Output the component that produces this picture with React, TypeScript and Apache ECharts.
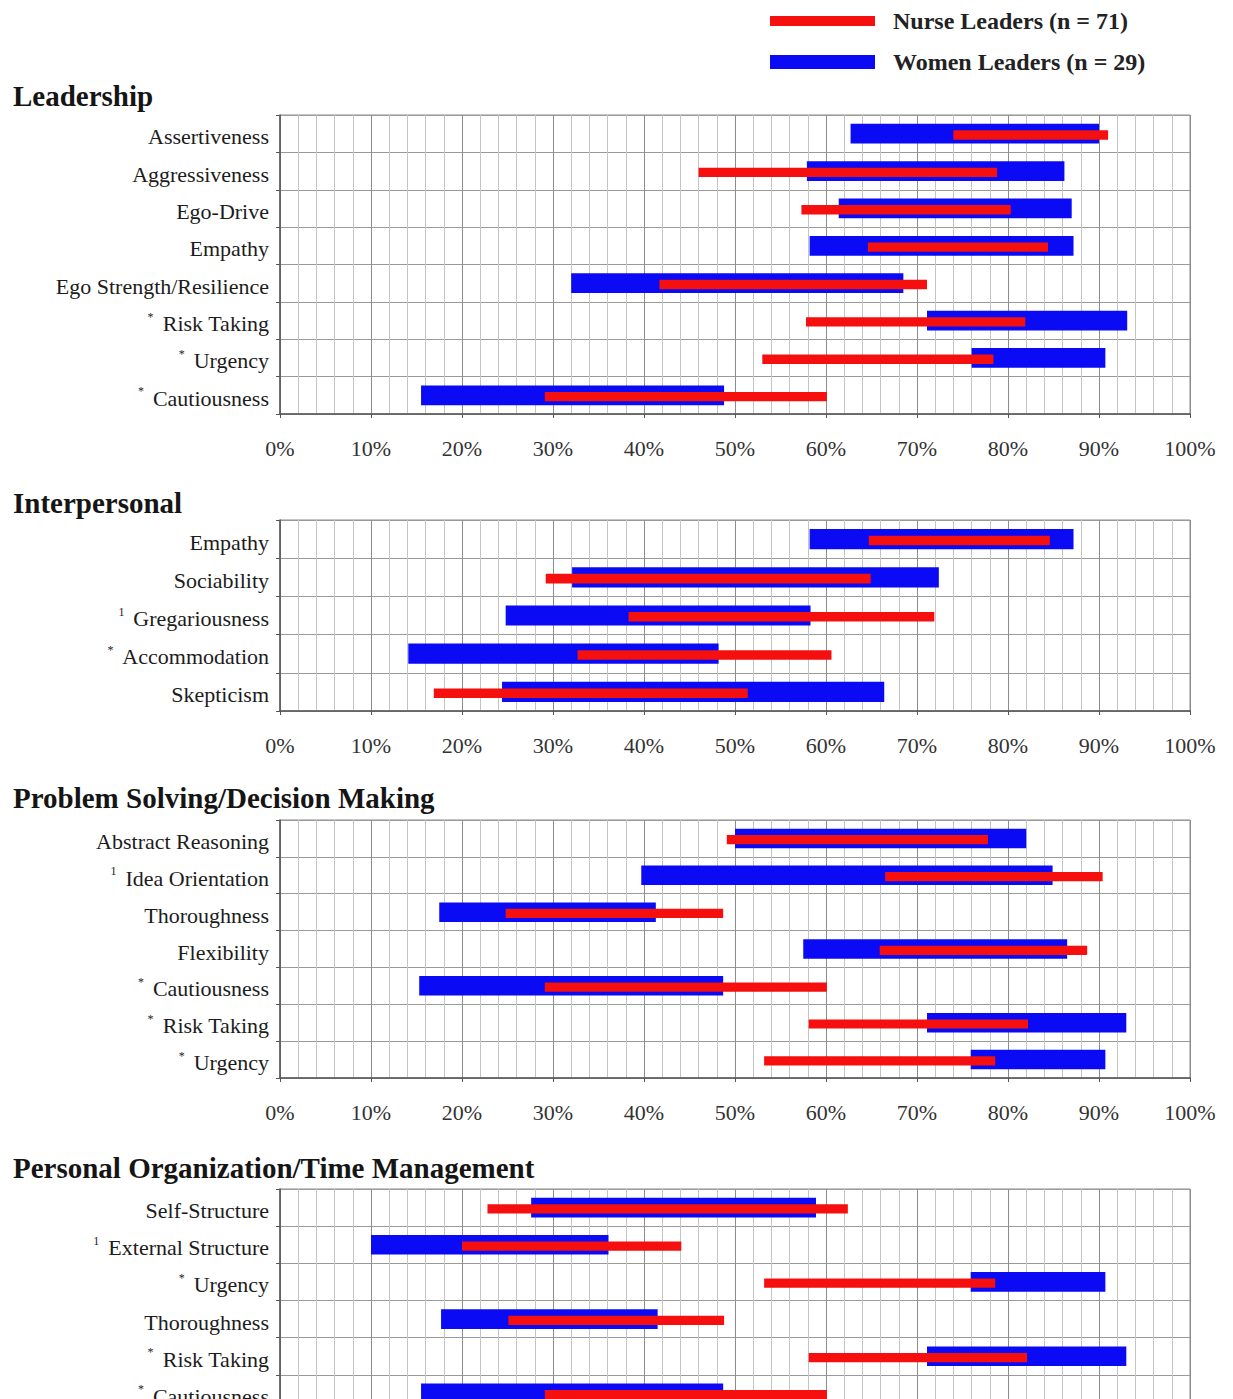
import React, { useEffect, useRef } from 'react';
import * as echarts from 'echarts';

const nurseName = 'Nurse Leaders (n = 71)';
const womenName = 'Women Leaders (n = 29)';
const nurseColor = '#f50f0f';
const womenColor = '#0a0af5';

const panelTitles = ['Leadership', 'Interpersonal', 'Problem Solving/Decision Making', 'Personal Organization/Time Management'];

const leadershipTraits = ['Assertiveness', 'Aggressiveness', 'Ego-Drive', 'Empathy', 'Ego Strength/Resilience', 'Risk Taking', 'Urgency', 'Cautiousness'];
const leadershipMarks = ['', '', '', '', '', '*', '*', '*'];
const leadershipWomenLow = [62.7, 57.9, 61.4, 58.2, 32.0, 71.1, 76.0, 15.5];
const leadershipWomenHigh = [90.0, 86.2, 87.0, 87.2, 68.5, 93.1, 90.7, 48.8];
const leadershipNurseLow = [74.0, 46.0, 57.3, 64.6, 41.7, 57.8, 53.0, 29.1];
const leadershipNurseHigh = [91.0, 78.8, 80.3, 84.4, 71.1, 81.9, 78.4, 60.1];

const interpersonalTraits = ['Empathy', 'Sociability', 'Gregariousness', 'Accommodation', 'Skepticism'];
const interpersonalMarks = ['', '', '1', '*', ''];
const interpersonalWomenLow = [58.2, 32.1, 24.8, 14.1, 24.4];
const interpersonalWomenHigh = [87.2, 72.4, 58.3, 48.2, 66.4];
const interpersonalNurseLow = [64.7, 29.2, 38.3, 32.7, 16.9];
const interpersonalNurseHigh = [84.6, 64.9, 71.9, 60.6, 51.4];

const problemTraits = ['Abstract Reasoning', 'Idea Orientation', 'Thoroughness', 'Flexibility', 'Cautiousness', 'Risk Taking', 'Urgency'];
const problemMarks = ['', '1', '', '', '*', '*', '*'];
const problemWomenLow = [50.0, 39.7, 17.5, 57.5, 15.3, 71.1, 75.9];
const problemWomenHigh = [82.0, 84.9, 41.3, 86.5, 48.7, 93.0, 90.7];
const problemNurseLow = [49.1, 66.5, 24.8, 65.9, 29.1, 58.1, 53.2];
const problemNurseHigh = [77.8, 90.4, 48.7, 88.7, 60.1, 82.2, 78.6];

const personalTraits = ['Self-Structure', 'External Structure', 'Urgency', 'Thoroughness', 'Risk Taking', 'Cautiousness'];
const personalMarks = ['', '1', '*', '', '*', '*'];
const personalWomenLow = [27.6, 10.0, 75.9, 17.7, 71.1, 15.5];
const personalWomenHigh = [58.9, 36.1, 90.7, 41.5, 93.0, 48.7];
const personalNurseLow = [22.8, 20.0, 53.2, 25.1, 58.1, 29.1];
const personalNurseHigh = [62.4, 44.1, 78.6, 48.8, 82.1, 60.1];

const panels = [
  { traits: leadershipTraits, marks: leadershipMarks, wl: leadershipWomenLow, wh: leadershipWomenHigh, nl: leadershipNurseLow, nh: leadershipNurseHigh },
  { traits: interpersonalTraits, marks: interpersonalMarks, wl: interpersonalWomenLow, wh: interpersonalWomenHigh, nl: interpersonalNurseLow, nh: interpersonalNurseHigh },
  { traits: problemTraits, marks: problemMarks, wl: problemWomenLow, wh: problemWomenHigh, nl: problemNurseLow, nh: problemNurseHigh },
  { traits: personalTraits, marks: personalMarks, wl: personalWomenLow, wh: personalWomenHigh, nl: personalNurseLow, nh: personalNurseHigh },
];

// layout (pixels)
const gridTops = [115, 520, 820, 1189];
const gridHeights = [299, 191, 258, 223];
const titleTops = [81, 488, 783, 1153];
// the last panel's percent labels fall below the visible page in the reference
const showTickLabels = [true, true, true, false];

const FONT = '"Liberation Serif", "Times New Roman", serif';

function makeRender(kind: 'women' | 'nurse') {
  return (params: any, api: any) => {
    const cat = api.value(0);
    const a = api.coord([api.value(1), cat]);
    const b = api.coord([api.value(2), cat]);
    const band = api.size([0, 1])[1];
    const h = kind === 'women' ? band * 0.53 : band * 0.25;
    const off = kind === 'women' ? 0 : band * 0.035;
    return {
      type: 'rect',
      shape: { x: a[0], y: a[1] - h / 2 + off, width: b[0] - a[0], height: h },
      style: { fill: kind === 'women' ? womenColor : nurseColor },
    };
  };
}

export default function App() {
  const ref = useRef<HTMLDivElement>(null);
  useEffect(() => {
    if (!ref.current) return;
    const chart = echarts.init(ref.current, undefined, { renderer: 'svg' });
    const grid: any[] = [];
    const xAxis: any[] = [];
    const yAxis: any[] = [];
    const series: any[] = [];
    const title: any[] = [];
    panels.forEach((p, i) => {
      grid.push({
        left: 280, width: 910, top: gridTops[i], height: gridHeights[i],
        show: true, borderColor: '#8a8a8a', borderWidth: 1, backgroundColor: '#fff',
      });
      title.push({
        text: panelTitles[i], left: 13, top: titleTops[i], padding: 0,
        textStyle: { fontFamily: FONT, fontWeight: 'bold', fontSize: 29, color: '#151515' },
      });
      xAxis.push({
        type: 'value', gridIndex: i, min: 0, max: 100, interval: 10,
        axisLine: { show: true, lineStyle: { color: '#555', width: 1.5 } },
        axisTick: { show: true, length: 4, lineStyle: { color: '#555' } },
        axisLabel: { show: showTickLabels[i], formatter: '{value}%', fontFamily: FONT, fontSize: 22, color: '#333', margin: 23 },
        splitLine: { show: true, lineStyle: { color: '#8c8c8c', width: 1 } },
        minorTick: { show: false, splitNumber: 5 },
        minorSplitLine: { show: true, lineStyle: { color: '#c4c4c4', width: 1 } },
      });
      yAxis.push({
        type: 'category', gridIndex: i, inverse: true, data: p.traits,
        axisLine: { show: true, lineStyle: { color: '#555', width: 1.5 } },
        axisTick: { show: true, length: 4, lineStyle: { color: '#555' } },
        splitLine: { show: true, lineStyle: { color: '#9a9a9a', width: 1 } },
        axisLabel: {
          margin: 11,
          fontFamily: FONT, fontSize: 22, color: '#1c1c1c',
          formatter: (value: string, idx: number) => {
            const m = p.marks[idx];
            return m ? `{sup|${m}}{lab|${value}}` : `{lab|${value}}`;
          },
          rich: {
            lab: { fontFamily: FONT, fontSize: 22, color: '#1c1c1c', lineHeight: 24, padding: [6, 0, 0, 0] },
            sup: { fontFamily: FONT, fontSize: 12, color: '#1c1c1c', verticalAlign: 'top', padding: [2, 9, 0, 0] },
          },
        },
      });
      series.push({
        type: 'custom', name: womenName, xAxisIndex: i, yAxisIndex: i,
        renderItem: makeRender('women'),
        itemStyle: { color: womenColor },
        encode: { x: [1, 2], y: 0 },
        data: p.traits.map((_, k) => [k, p.wl[k], p.wh[k]]),
        z: 3,
      });
      series.push({
        type: 'custom', name: nurseName, xAxisIndex: i, yAxisIndex: i,
        renderItem: makeRender('nurse'),
        itemStyle: { color: nurseColor },
        encode: { x: [1, 2], y: 0 },
        data: p.traits.map((_, k) => [k, p.nl[k], p.nh[k]]),
        z: 4,
      });
    });
    chart.setOption({
      animation: false,
      backgroundColor: '#fff',
      title,
      legend: [
        {
          data: [{ name: nurseName, itemStyle: { color: nurseColor } }],
          left: 770, top: 9, padding: 0, icon: 'rect', itemWidth: 105, itemHeight: 10,
          selectedMode: false,
          textStyle: { fontFamily: FONT, fontWeight: 'bold', fontSize: 24, color: '#222', padding: [0, 0, 0, 13] },
        },
        {
          data: [{ name: womenName, itemStyle: { color: womenColor } }],
          left: 770, top: 50, padding: 0, icon: 'rect', itemWidth: 105, itemHeight: 14,
          selectedMode: false,
          textStyle: { fontFamily: FONT, fontWeight: 'bold', fontSize: 24, color: '#222', padding: [0, 0, 0, 13] },
        },
      ],
      grid, xAxis, yAxis, series,
    });
    return () => chart.dispose();
  }, []);
  return (
    <div
      ref={ref}
      style={{ position: 'fixed', left: 0, top: 0, width: 1233, height: 1470, background: '#fff' }}
    />
  );
}
